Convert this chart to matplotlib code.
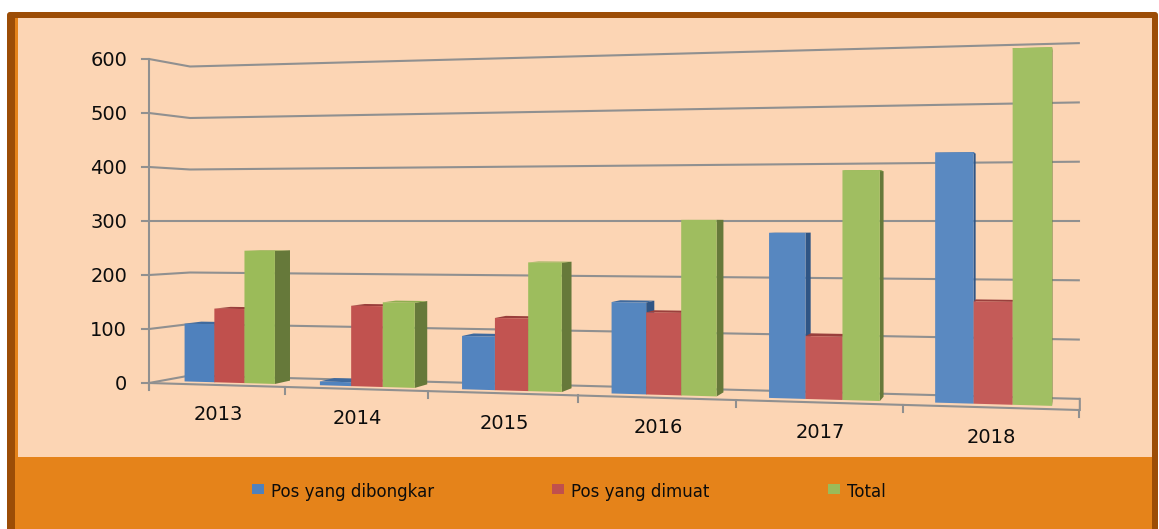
import matplotlib
matplotlib.use("Agg")
import matplotlib.pyplot as plt
from matplotlib.colors import to_rgb
from matplotlib.patches import Polygon, Rectangle, FancyBboxPatch

years = ["2013", "2014", "2015", "2016", "2017", "2018"]
dibongkar = [108, 7, 95, 159, 280, 413]
dimuat = [137, 146, 128, 142, 106, 168]
total = [245, 153, 227, 302, 385, 582]
y_ticks = [0, 100, 200, 300, 400, 500, 600]
series_names = ["Pos yang dibongkar", "Pos yang dimuat", "Total"]

# front, side, top colours for each series
face_colors = ["#4f81bd", "#c0504d", "#9bbb59"]
side_colors = ["#2f5585", "#8c3836", "#66793a"]
top_colors = ["#3f6a9e", "#9a3f3c", "#8fae50"]
grid_color = "#909090"
text_color = "#0c0c0c"


def front_x(t):
    return 149 + 132.7 * t / (1 - 0.02395 * t)


def project(t, depth, value):
    # fake 3d: the 300 line is at eye height, heights scale with screen x
    xf = front_x(t)
    xb = xf + 41 * (1079 - xf) / 930
    kf = 0.54 + (xf - 149) * 0.09 / 930
    kb = 0.515 + (xb - 190) * 0.078 / 890
    k = kf * (1 - depth) + kb * depth
    return xf + depth * (xb - xf), 221 + (300 - value) * k


def lighten(color, amount):
    return [c + (1 - c) * amount for c in to_rgb(color)]


fig = plt.figure(figsize=(11.59, 5.29), dpi=100, facecolor="white")
ax = fig.add_axes([0, 0, 1, 1])
ax.set_xlim(0, 1159)
ax.set_ylim(529, 0)
ax.axis("off")

# frame and background
ax.add_patch(FancyBboxPatch((9, 14), 1147, 520, boxstyle="round,pad=2,rounding_size=3",
                            fc="#9c4d06", ec="none", zorder=0))
ax.add_patch(Rectangle((15, 18), 1137, 511, fc="#e5831a", ec="none", zorder=0.1))
ax.add_patch(Rectangle((18, 18), 1134, 439, fc="#fcd5b4", ec="none", zorder=0.2))

# walls and gridlines
n = len(years)
for v in y_ticks:
    x0, y0 = project(0, 0, v)
    x1, y1 = project(0, 1, v)
    x2, y2 = project(n, 1, v)
    ax.plot([x0 - 7, x0, x1, x2], [y0, y0, y1, y2], color=grid_color, lw=1.5, zorder=1)
    ax.text(127, y0 + 2, str(v), ha="right", va="center", fontsize=14, color=text_color)

x0, y0 = project(0, 0, 0)
x1, y1 = project(0, 0, 600)
ax.plot([x0, x1], [y0 + 6, y1], color=grid_color, lw=1.5, zorder=1)

xa, ya = project(n, 0, 0)
xb, yb = project(n, 1, 0)
ax.plot([x0, xa], [y0, ya], color=grid_color, lw=1.5, zorder=1)
ax.plot([xa + 1, xb + 1], [ya, yb], color=grid_color, lw=1.5, zorder=1)
for i in range(n + 1):
    xt, yt = project(i, 0, 0)
    ax.plot([xt, xt], [yt, yt + 7], color=grid_color, lw=1.5, zorder=1)

# bars
gap = 0.177
bar_w = 0.2243
d_front = 0.3
d_back = 0.72
for i in range(n):
    for j, vals in enumerate([dibongkar, dimuat, total]):
        v = vals[i]
        t0 = i + gap + j * bar_w
        t1 = t0 + bar_w
        z = 2 + i + j * 0.1
        side = [project(t1, d_front, 0), project(t1, d_back, 0),
                project(t1, d_back, v), project(t1, d_front, v)]
        top = [project(t0, d_front, v), project(t1, d_front, v),
               project(t1, d_back, v), project(t0, d_back, v)]
        front = [project(t0, d_front, 0), project(t1, d_front, 0),
                 project(t1, d_front, v), project(t0, d_front, v)]
        ax.add_patch(Polygon(side, fc=side_colors[j], ec="none", zorder=z))
        ax.add_patch(Polygon(top, fc=top_colors[j], ec="none", zorder=z + 0.01))
        ax.add_patch(Polygon(front, fc=lighten(face_colors[j], i * 0.012), ec="none", zorder=z + 0.02))

for i, year in enumerate(years):
    xl, yl = project(i + 0.5, 0, 0)
    ax.text(xl + 2, yl + 30, year, ha="center", va="center", fontsize=14, color=text_color)

# legend
legend_x = [252, 552, 828]
for lx, name, col in zip(legend_x, series_names, face_colors):
    ax.add_patch(Rectangle((lx, 484), 12, 10, fc=col, ec="none", zorder=5))
    ax.text(lx + 19, 492, name, ha="left", va="center", fontsize=12, color=text_color)

fig.savefig("out.png", dpi=100)
